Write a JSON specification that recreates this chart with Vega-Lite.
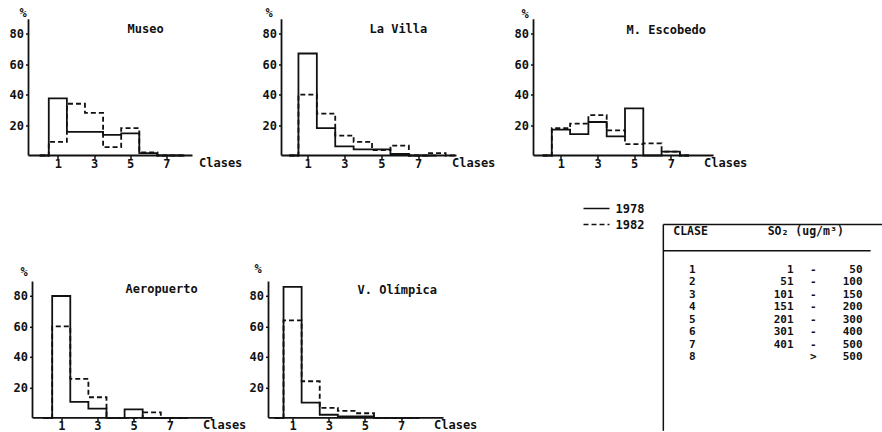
{
  "$schema": "https://vega.github.io/schema/vega-lite/v6.json",
  "background": "white",
  "padding": {"left": 8.5, "top": 6.5, "right": 0, "bottom": 0},
  "datasets": {
    "hist": [
      {"estacion":"Museo","anio":"1978","clase":0,"pct":0},{"estacion":"Museo","anio":"1978","clase":1,"pct":37.5},{"estacion":"Museo","anio":"1978","clase":2,"pct":15.5},{"estacion":"Museo","anio":"1978","clase":3,"pct":15.5},{"estacion":"Museo","anio":"1978","clase":4,"pct":13.5},{"estacion":"Museo","anio":"1978","clase":5,"pct":14.5},{"estacion":"Museo","anio":"1978","clase":6,"pct":1.5},{"estacion":"Museo","anio":"1978","clase":7,"pct":0},{"estacion":"Museo","anio":"1978","clase":8,"pct":0},
      {"estacion":"Museo","anio":"1982","clase":0,"pct":0},{"estacion":"Museo","anio":"1982","clase":1,"pct":9},{"estacion":"Museo","anio":"1982","clase":2,"pct":34},{"estacion":"Museo","anio":"1982","clase":3,"pct":28},{"estacion":"Museo","anio":"1982","clase":4,"pct":5.5},{"estacion":"Museo","anio":"1982","clase":5,"pct":18},{"estacion":"Museo","anio":"1982","clase":6,"pct":2},{"estacion":"Museo","anio":"1982","clase":7,"pct":0},{"estacion":"Museo","anio":"1982","clase":8,"pct":0},
      {"estacion":"La Villa","anio":"1978","clase":0,"pct":0},{"estacion":"La Villa","anio":"1978","clase":1,"pct":67},{"estacion":"La Villa","anio":"1978","clase":2,"pct":18},{"estacion":"La Villa","anio":"1978","clase":3,"pct":6},{"estacion":"La Villa","anio":"1978","clase":4,"pct":4},{"estacion":"La Villa","anio":"1978","clase":5,"pct":4},{"estacion":"La Villa","anio":"1978","clase":6,"pct":1},{"estacion":"La Villa","anio":"1978","clase":7,"pct":0},{"estacion":"La Villa","anio":"1978","clase":8,"pct":0},
      {"estacion":"La Villa","anio":"1982","clase":0,"pct":0},{"estacion":"La Villa","anio":"1982","clase":1,"pct":40},{"estacion":"La Villa","anio":"1982","clase":2,"pct":27.5},{"estacion":"La Villa","anio":"1982","clase":3,"pct":13},{"estacion":"La Villa","anio":"1982","clase":4,"pct":9},{"estacion":"La Villa","anio":"1982","clase":5,"pct":3.5},{"estacion":"La Villa","anio":"1982","clase":6,"pct":6.5},{"estacion":"La Villa","anio":"1982","clase":7,"pct":0},{"estacion":"La Villa","anio":"1982","clase":8,"pct":1.5},{"estacion":"La Villa","anio":"1982","clase":9,"pct":0},
      {"estacion":"M. Escobedo","anio":"1978","clase":0,"pct":0},{"estacion":"M. Escobedo","anio":"1978","clase":1,"pct":17},{"estacion":"M. Escobedo","anio":"1978","clase":2,"pct":14},{"estacion":"M. Escobedo","anio":"1978","clase":3,"pct":22},{"estacion":"M. Escobedo","anio":"1978","clase":4,"pct":12.5},{"estacion":"M. Escobedo","anio":"1978","clase":5,"pct":31},{"estacion":"M. Escobedo","anio":"1978","clase":6,"pct":0},{"estacion":"M. Escobedo","anio":"1978","clase":7,"pct":2.5},{"estacion":"M. Escobedo","anio":"1978","clase":8,"pct":0},
      {"estacion":"M. Escobedo","anio":"1982","clase":0,"pct":0},{"estacion":"M. Escobedo","anio":"1982","clase":1,"pct":18},{"estacion":"M. Escobedo","anio":"1982","clase":2,"pct":21},{"estacion":"M. Escobedo","anio":"1982","clase":3,"pct":26.5},{"estacion":"M. Escobedo","anio":"1982","clase":4,"pct":16.5},{"estacion":"M. Escobedo","anio":"1982","clase":5,"pct":7.5},{"estacion":"M. Escobedo","anio":"1982","clase":6,"pct":8},{"estacion":"M. Escobedo","anio":"1982","clase":7,"pct":2.5},{"estacion":"M. Escobedo","anio":"1982","clase":8,"pct":0},
      {"estacion":"Aeropuerto","anio":"1978","clase":0,"pct":0},{"estacion":"Aeropuerto","anio":"1978","clase":1,"pct":80},{"estacion":"Aeropuerto","anio":"1978","clase":2,"pct":10.5},{"estacion":"Aeropuerto","anio":"1978","clase":3,"pct":6},{"estacion":"Aeropuerto","anio":"1978","clase":4,"pct":0},{"estacion":"Aeropuerto","anio":"1978","clase":5,"pct":5.5},{"estacion":"Aeropuerto","anio":"1978","clase":6,"pct":0},{"estacion":"Aeropuerto","anio":"1978","clase":7,"pct":0},{"estacion":"Aeropuerto","anio":"1978","clase":8,"pct":0},
      {"estacion":"Aeropuerto","anio":"1982","clase":0,"pct":0},{"estacion":"Aeropuerto","anio":"1982","clase":1,"pct":60},{"estacion":"Aeropuerto","anio":"1982","clase":2,"pct":25.5},{"estacion":"Aeropuerto","anio":"1982","clase":3,"pct":13.5},{"estacion":"Aeropuerto","anio":"1982","clase":4,"pct":0},{"estacion":"Aeropuerto","anio":"1982","clase":5,"pct":0},{"estacion":"Aeropuerto","anio":"1982","clase":6,"pct":3.5},{"estacion":"Aeropuerto","anio":"1982","clase":7,"pct":0},{"estacion":"Aeropuerto","anio":"1982","clase":8,"pct":0},
      {"estacion":"V. Olímpica","anio":"1978","clase":0,"pct":0},{"estacion":"V. Olímpica","anio":"1978","clase":1,"pct":86},{"estacion":"V. Olímpica","anio":"1978","clase":2,"pct":10},{"estacion":"V. Olímpica","anio":"1978","clase":3,"pct":2},{"estacion":"V. Olímpica","anio":"1978","clase":4,"pct":1},{"estacion":"V. Olímpica","anio":"1978","clase":5,"pct":1},{"estacion":"V. Olímpica","anio":"1978","clase":6,"pct":0},{"estacion":"V. Olímpica","anio":"1978","clase":7,"pct":0},{"estacion":"V. Olímpica","anio":"1978","clase":8,"pct":0},
      {"estacion":"V. Olímpica","anio":"1982","clase":0,"pct":0},{"estacion":"V. Olímpica","anio":"1982","clase":1,"pct":64},{"estacion":"V. Olímpica","anio":"1982","clase":2,"pct":24},{"estacion":"V. Olímpica","anio":"1982","clase":3,"pct":6.5},{"estacion":"V. Olímpica","anio":"1982","clase":4,"pct":4.5},{"estacion":"V. Olímpica","anio":"1982","clase":5,"pct":3},{"estacion":"V. Olímpica","anio":"1982","clase":6,"pct":0},{"estacion":"V. Olímpica","anio":"1982","clase":7,"pct":0},{"estacion":"V. Olímpica","anio":"1982","clase":8,"pct":0}
    ],
    "tabla": [
      {"clase":1,"desde":"1","signo":"-","hasta":"50"},
      {"clase":2,"desde":"51","signo":"-","hasta":"100"},
      {"clase":3,"desde":"101","signo":"-","hasta":"150"},
      {"clase":4,"desde":"151","signo":"-","hasta":"200"},
      {"clase":5,"desde":"201","signo":"-","hasta":"300"},
      {"clase":6,"desde":"301","signo":"-","hasta":"400"},
      {"clase":7,"desde":"401","signo":"-","hasta":"500"},
      {"clase":8,"desde":"","signo":">","hasta":"500"}
    ]
  },
  "columns": 3,
  "align": "each",
  "bounds": "flush",
  "spacing": {"column": 50, "row": 68.3},
  "concat": [
    {
      "width": 190, "height": 137,
      "title": {"text": "Museo", "dx": 99, "offset": -29},
      "data": {"name": "hist"},
      "layer": [
        {
          "transform": [{"filter": {"field": "estacion", "equal": "Museo"}}],
          "mark": {"type": "line", "interpolate": "step", "color": "#111", "strokeWidth": 1.8},
          "encoding": {
            "x": {"field": "clase", "type": "quantitative", "scale": {"domain": [-0.62, 9.877], "nice": false, "zero": false},
                  "axis": {"values": [1,2,3,4,5,6,7,8], "labelExpr": "datum.value % 2 == 1 ? datum.label : ''", "title": "Clases", "titleX": 170, "titleY": 7}},
            "y": {"field": "pct", "type": "quantitative", "scale": {"domain": [0, 90], "nice": false}, "axis": {"values": [20,40,60,80], "title": "%", "titleX": -6, "titleY": -6}},
            "strokeDash": {"field": "anio", "type": "nominal", "scale": {"domain": ["1978","1982"], "range": [[1,0],[5,3]]}}
          }
        },
        {"data": {"values": [{}]}, "mark": {"type": "rule", "color": "#111", "strokeWidth": 1.8},
         "encoding": {"x": {"datum": -0.62, "type": "quantitative"}, "x2": {"datum": 8.44}, "y": {"datum": 0, "type": "quantitative"}}},
        {"data": {"values": [{}]}, "mark": {"type": "rule", "color": "#111", "strokeWidth": 1.8},
         "encoding": {"x": {"datum": -0.62, "type": "quantitative"}, "y": {"datum": 0, "type": "quantitative"}, "y2": {"datum": 89.5}}}
      ]
    },
    {
      "width": 215, "height": 137,
      "title": {"text": "La Villa", "dx": 101, "offset": -29},
      "data": {"name": "hist"},
      "layer": [
        {
          "transform": [{"filter": {"field": "estacion", "equal": "La Villa"}}],
          "mark": {"type": "line", "interpolate": "step", "color": "#111", "strokeWidth": 1.8},
          "encoding": {
            "x": {"field": "clase", "type": "quantitative", "scale": {"domain": [-1.127, 10.558], "nice": false, "zero": false},
                  "axis": {"values": [1,2,3,4,5,6,7,8], "labelExpr": "datum.value % 2 == 1 ? datum.label : ''", "title": "Clases", "titleX": 183, "titleY": 7}},
            "y": {"field": "pct", "type": "quantitative", "scale": {"domain": [0, 90], "nice": false}, "axis": {"values": [20,40,60,80], "title": "%", "titleX": -13, "titleY": -6, "offset": -13}},
            "strokeDash": {"field": "anio", "type": "nominal", "scale": {"domain": ["1978","1982"], "range": [[1,0],[5,3]]}}
          }
        },
        {"data": {"values": [{}]}, "mark": {"type": "rule", "color": "#111", "strokeWidth": 1.8},
         "encoding": {"x": {"datum": -0.42, "type": "quantitative"}, "x2": {"datum": 9.09}, "y": {"datum": 0, "type": "quantitative"}}},
        {"data": {"values": [{}]}, "mark": {"type": "rule", "color": "#111", "strokeWidth": 1.8},
         "encoding": {"x": {"datum": -0.42, "type": "quantitative"}, "y": {"datum": 0, "type": "quantitative"}, "y2": {"datum": 89.5}}}
      ]
    },
    {
      "width": 200, "height": 137,
      "title": {"text": "M. Escobedo", "dx": 93, "offset": -29},
      "data": {"name": "hist"},
      "layer": [
        {
          "transform": [{"filter": {"field": "estacion", "equal": "M. Escobedo"}}],
          "mark": {"type": "line", "interpolate": "step", "color": "#111", "strokeWidth": 1.8},
          "encoding": {
            "x": {"field": "clase", "type": "quantitative", "scale": {"domain": [-0.5, 10.43], "nice": false, "zero": false},
                  "axis": {"values": [1,2,3,4,5,6,7,8], "labelExpr": "datum.value % 2 == 1 ? datum.label : ''", "title": "Clases", "titleX": 170, "titleY": 7}},
            "y": {"field": "pct", "type": "quantitative", "scale": {"domain": [0, 90], "nice": false}, "axis": {"values": [20,40,60,80], "title": "%", "titleX": -9, "titleY": -5}},
            "strokeDash": {"field": "anio", "type": "nominal", "scale": {"domain": ["1978","1982"], "range": [[1,0],[5,3]]},
                           "legend": {"title": null, "orient": "none", "legendX": 554, "legendY": 183, "padding": 0, "symbolType": "stroke", "symbolSize": 676, "symbolStrokeWidth": 1.6, "symbolStrokeColor": "#111", "clipHeight": 14, "rowPadding": 2, "labelOffset": 5, "labelFont": "DejaVu Sans Mono", "labelFontWeight": "bold", "labelFontSize": 12, "labelColor": "#111"}}
          }
        },
        {"data": {"values": [{}]}, "mark": {"type": "rule", "color": "#111", "strokeWidth": 1.8},
         "encoding": {"x": {"datum": -0.5, "type": "quantitative"}, "x2": {"datum": 9.34}, "y": {"datum": 0, "type": "quantitative"}}},
        {"data": {"values": [{}]}, "mark": {"type": "rule", "color": "#111", "strokeWidth": 1.8},
         "encoding": {"x": {"datum": -0.5, "type": "quantitative"}, "y": {"datum": 0, "type": "quantitative"}, "y2": {"datum": 89.5}}}
      ]
    },
    {
      "width": 190, "height": 194,
      "title": {"text": "Aeropuerto", "dx": 97, "offset": -72},
      "data": {"name": "hist"},
      "layer": [
        {
          "transform": [{"filter": {"field": "estacion", "equal": "Aeropuerto"}}],
          "mark": {"type": "line", "interpolate": "step", "color": "#111", "strokeWidth": 1.8},
          "encoding": {
            "x": {"field": "clase", "type": "quantitative", "scale": {"domain": [-0.809, 9.688], "nice": false, "zero": false},
                  "axis": {"values": [1,2,3,4,5,6,7,8], "labelExpr": "datum.value % 2 == 1 ? datum.label : ''", "title": "Clases", "titleX": 174, "titleY": 7}},
            "y": {"field": "pct", "type": "quantitative", "scale": {"domain": [0, 127.4], "nice": false}, "axis": {"values": [20,40,60,80], "title": "%", "titleX": -9, "titleY": 48, "offset": -4}},
            "strokeDash": {"field": "anio", "type": "nominal", "scale": {"domain": ["1978","1982"], "range": [[1,0],[5,3]]}}
          }
        },
        {"data": {"values": [{}]}, "mark": {"type": "rule", "color": "#111", "strokeWidth": 1.8},
         "encoding": {"x": {"datum": -0.588, "type": "quantitative"}, "x2": {"datum": 9.36}, "y": {"datum": 0, "type": "quantitative"}}},
        {"data": {"values": [{}]}, "mark": {"type": "rule", "color": "#111", "strokeWidth": 1.8},
         "encoding": {"x": {"datum": -0.588, "type": "quantitative"}, "y": {"datum": 0, "type": "quantitative"}, "y2": {"datum": 89.5}}}
      ]
    },
    {
      "width": 215, "height": 194,
      "title": {"text": "V. Olímpica", "dx": 89, "offset": -73},
      "data": {"name": "hist"},
      "layer": [
        {
          "transform": [{"filter": {"field": "estacion", "equal": "V. Olímpica"}}],
          "mark": {"type": "line", "interpolate": "step", "color": "#111", "strokeWidth": 1.8},
          "encoding": {
            "x": {"field": "clase", "type": "quantitative", "scale": {"domain": [-0.33, 11.548], "nice": false, "zero": false},
                  "axis": {"values": [1,2,3,4,5,6,7,8], "labelExpr": "datum.value % 2 == 1 ? datum.label : ''", "title": "Clases", "titleX": 165, "titleY": 7}},
            "y": {"field": "pct", "type": "quantitative", "scale": {"domain": [0, 127.4], "nice": false}, "axis": {"values": [20,40,60,80], "title": "%", "titleX": -11, "titleY": 45}},
            "strokeDash": {"field": "anio", "type": "nominal", "scale": {"domain": ["1978","1982"], "range": [[1,0],[5,3]]}}
          }
        },
        {"data": {"values": [{}]}, "mark": {"type": "rule", "color": "#111", "strokeWidth": 1.8},
         "encoding": {"x": {"datum": -0.33, "type": "quantitative"}, "x2": {"datum": 9.34}, "y": {"datum": 0, "type": "quantitative"}}},
        {"data": {"values": [{}]}, "mark": {"type": "rule", "color": "#111", "strokeWidth": 1.8},
         "encoding": {"x": {"datum": -0.33, "type": "quantitative"}, "y": {"datum": 0, "type": "quantitative"}, "y2": {"datum": 89.5}}}
      ]
    },
    {
      "width": 349, "height": 207,
      "data": {"name": "tabla"},
      "layer": [
        {
          "mark": {"type": "text", "align": "center", "baseline": "middle", "fontSize": 11, "fontWeight": "bold", "color": "#111"},
          "encoding": {
            "x": {"datum": 45.5, "type": "quantitative", "scale": {"domain": [0, 100], "nice": false, "zero": false}, "axis": null},
            "y": {"field": "clase", "type": "quantitative", "scale": {"domain": [-2.656, 13.9], "reverse": true, "nice": false, "zero": false}, "axis": null},
            "text": {"field": "clase", "type": "quantitative"}
          }
        },
        {
          "mark": {"type": "text", "align": "right", "baseline": "middle", "fontSize": 11, "fontWeight": "bold", "color": "#111"},
          "encoding": {
            "x": {"datum": 74.5, "type": "quantitative"},
            "y": {"field": "clase", "type": "quantitative"},
            "text": {"field": "desde", "type": "nominal"}
          }
        },
        {
          "mark": {"type": "text", "align": "center", "baseline": "middle", "fontSize": 11, "fontWeight": "bold", "color": "#111"},
          "encoding": {
            "x": {"datum": 80.2, "type": "quantitative"},
            "y": {"field": "clase", "type": "quantitative"},
            "text": {"field": "signo", "type": "nominal"}
          }
        },
        {
          "mark": {"type": "text", "align": "right", "baseline": "middle", "fontSize": 11, "fontWeight": "bold", "color": "#111"},
          "encoding": {
            "x": {"datum": 94.3, "type": "quantitative"},
            "y": {"field": "clase", "type": "quantitative"},
            "text": {"field": "hasta", "type": "nominal"}
          }
        },
        {
          "data": {"values": [{"col": "CLASE", "pos": 45}, {"col": "SO₂  (ug/m³)", "pos": 78}]},
          "mark": {"type": "text", "align": "center", "baseline": "middle", "fontSize": 11.5, "fontWeight": "bold", "color": "#111"},
          "encoding": {
            "x": {"field": "pos", "type": "quantitative"},
            "y": {"datum": -2, "type": "quantitative"},
            "text": {"field": "col", "type": "nominal"}
          }
        },
        {
          "data": {"values": [{}]},
          "mark": {"type": "rule", "color": "#111", "strokeWidth": 1.5},
          "encoding": {"x": {"datum": 37.2, "type": "quantitative"}, "x2": {"datum": 100}, "y": {"datum": -2.6, "type": "quantitative"}}
        },
        {
          "data": {"values": [{}]},
          "mark": {"type": "rule", "color": "#111", "strokeWidth": 1.5},
          "encoding": {"x": {"datum": 37.2, "type": "quantitative"}, "y": {"datum": -2.6, "type": "quantitative"}, "y2": {"datum": 13.9}}
        },
        {
          "data": {"values": [{}]},
          "mark": {"type": "rule", "color": "#111", "strokeWidth": 1.3},
          "encoding": {"x": {"datum": 37.2, "type": "quantitative"}, "x2": {"datum": 96.6}, "y": {"datum": -0.5, "type": "quantitative"}}
        }
      ]
    }
  ],
  "config": {
    "font": "DejaVu Sans Mono",
    "view": {"stroke": null},
    "title": {"font": "DejaVu Sans Mono", "fontSize": 12, "fontWeight": "bold", "color": "#111", "anchor": "start", "frame": "group", "baseline": "middle"},
    "axis": {
      "grid": false, "domain": false, "tickColor": "#111", "tickWidth": 1.5, "tickSize": 3,
      "labelFont": "DejaVu Sans Mono", "labelFontWeight": "bold", "labelFontSize": 12, "labelColor": "#111",
      "labelOverlap": false, "labelFlush": false,
      "titleFont": "DejaVu Sans Mono", "titleFontWeight": "bold", "titleFontSize": 12, "titleColor": "#111"
    },
    "axisX": {"titleAlign": "left", "titleBaseline": "middle", "titleAngle": 0, "labelPadding": 0},
    "axisY": {"titleAngle": 0, "titleAlign": "center", "titleBaseline": "middle", "labelPadding": 2}
  }
}
